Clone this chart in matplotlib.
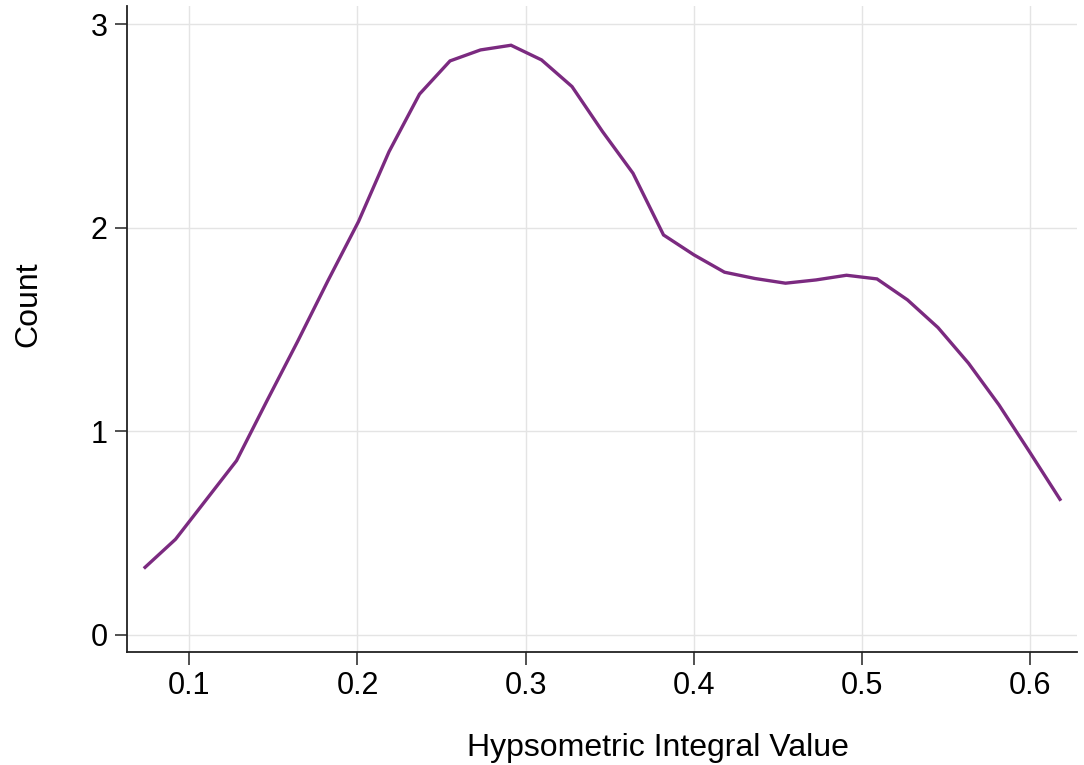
import numpy as np
import matplotlib
matplotlib.use("Agg")
import matplotlib.pyplot as plt

# density-like curve
hi_value = np.linspace(0.0737, 0.6177, 31)
count = [0.331, 0.469, 0.662, 0.855, 1.15, 1.44, 1.74, 2.03, 2.373, 2.656,
         2.819, 2.873, 2.896, 2.824, 2.693, 2.472, 2.267, 1.964, 1.866, 1.781,
         1.75, 1.727, 1.743, 1.766, 1.748, 1.645, 1.509, 1.334, 1.129, 0.899,
         0.665]

x_ticks = [0.1, 0.2, 0.3, 0.4, 0.5, 0.6]
y_ticks = [0, 1, 2, 3]

plt.rcParams['font.family'] = ['Liberation Sans', 'DejaVu Sans']

fig = plt.figure(figsize=(10.84, 7.65), dpi=100)
ax = fig.add_axes([0.1172, 0.1477, 0.8763, 0.8445])

ax.plot(hi_value, count, color='#7b2a80', lw=2.4, solid_joinstyle='miter')

ax.set_xlim(0.063, 0.6278)
ax.set_ylim(-0.085, 3.089)
ax.set_xticks(x_ticks)
ax.set_xticklabels([f"{t:.1f}" for t in x_ticks])
ax.set_yticks(y_ticks)

ax.grid(True, color='#e4e4e4', lw=1)
ax.set_axisbelow(True)
for s in ['top', 'right']:
    ax.spines[s].set_visible(False)
for s in ['left', 'bottom']:
    ax.spines[s].set_color('#222222')
    ax.spines[s].set_linewidth(1.3)
ax.tick_params(axis='both', direction='out', length=9, width=1.1,
               labelsize=22, pad=5, color='#222222')

ax.set_xlabel("Hypsometric Integral Value", fontsize=23)
ax.set_ylabel("Count", fontsize=23)
ax.xaxis.set_label_coords(0.559, -0.126)
ax.yaxis.set_label_coords(-0.088, 0.539)

fig.savefig("out.png", dpi=100)
